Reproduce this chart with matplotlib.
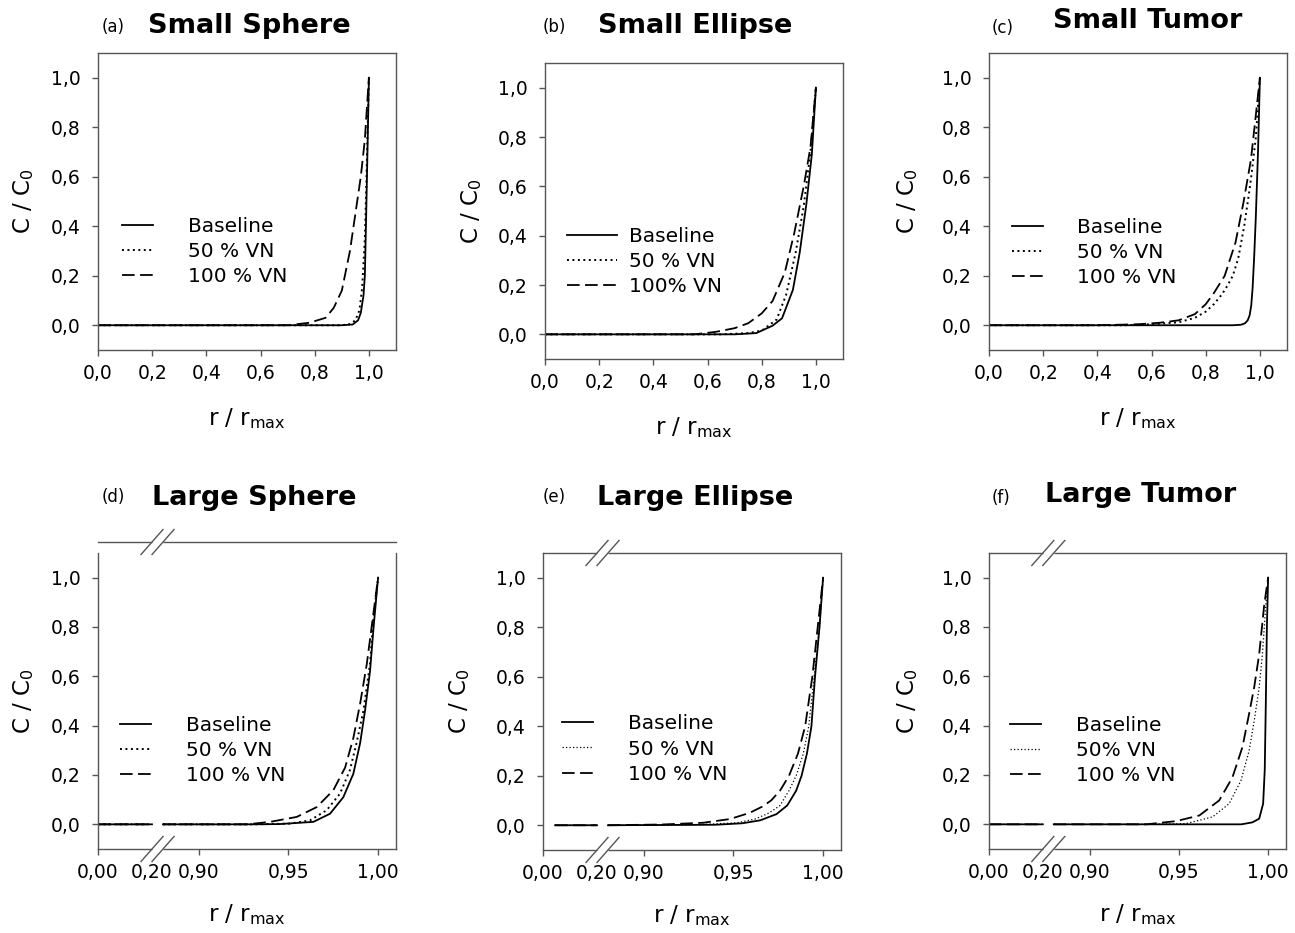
import numpy as np
import matplotlib
matplotlib.use("Agg")
import matplotlib.pyplot as plt
from matplotlib.ticker import FuncFormatter, FixedLocator
from matplotlib.lines import Line2D

# ---------------- data ----------------
# (a) Small Sphere
a_base_x = [0, 0.9, 0.94, 0.96, 0.97, 0.98, 0.985, 0.99, 0.995, 1.0]
a_base_y = [0, 0, 0.003, 0.02, 0.05, 0.12, 0.2, 0.45, 0.72, 1.0]
a_50_x = [0, 0.9, 0.93, 0.95, 0.965, 0.975, 0.985, 0.99, 0.995, 1.0]
a_50_y = [0, 0, 0.005, 0.02, 0.06, 0.15, 0.35, 0.55, 0.78, 1.0]
a_100_x = [0, 0.7, 0.78, 0.84, 0.87, 0.9, 0.93, 0.95, 0.97, 0.985, 0.995, 1.0]
a_100_y = [0, 0, 0.01, 0.03, 0.07, 0.14, 0.3, 0.45, 0.6, 0.75, 0.92, 1.0]

# (b) Small Ellipse
b_base_x = [0, 0.7, 0.78, 0.84, 0.875, 0.915, 0.94, 0.965, 0.985, 1.0]
b_base_y = [0, 0, 0.005, 0.035, 0.065, 0.18, 0.33, 0.53, 0.73, 1.0]
b_50_x = [0, 0.65, 0.75, 0.8, 0.855, 0.89, 0.925, 0.955, 0.98, 1.0]
b_50_y = [0, 0, 0.005, 0.015, 0.06, 0.16, 0.33, 0.52, 0.74, 1.0]
b_100_x = [0, 0.55, 0.63, 0.7, 0.75, 0.8, 0.84, 0.885, 0.92, 0.955, 0.98, 1.0]
b_100_y = [0, 0, 0.01, 0.025, 0.045, 0.085, 0.135, 0.25, 0.41, 0.6, 0.76, 1.0]

# (c) Small Tumor
c_base_x = [0, 0.9, 0.93, 0.945, 0.955, 0.962, 0.968, 0.973, 0.979, 0.985, 0.993, 1.0]
c_base_y = [0, 0, 0.002, 0.008, 0.02, 0.04, 0.08, 0.15, 0.28, 0.44, 0.7, 1.0]
c_50_x = [0, 0.5, 0.6, 0.7, 0.76, 0.8, 0.83, 0.86, 0.88, 0.9, 0.92, 0.942, 0.958, 0.968, 0.985, 1.0]
c_50_y = [0, 0, 0.004, 0.012, 0.03, 0.055, 0.085, 0.125, 0.16, 0.2, 0.27, 0.4, 0.52, 0.6, 0.76, 1.0]
c_100_x = [0, 0.4, 0.55, 0.63, 0.7, 0.76, 0.8, 0.83, 0.87, 0.91, 0.94, 0.967, 0.985, 1.0]
c_100_y = [0, 0, 0.004, 0.01, 0.02, 0.045, 0.085, 0.13, 0.2, 0.335, 0.5, 0.67, 0.85, 1.0]

# (d) Large Sphere (broken axis 0-0.20 | 0.88-1.01)
d_base_x = [0, 0.2, 0.88, 0.93, 0.945, 0.9639, 0.9732, 0.9806, 0.9862, 0.99, 0.9927, 0.9955, 0.9975, 1.0]
d_base_y = [0, 0, 0, 0, 0.001, 0.01, 0.043, 0.11, 0.205, 0.33, 0.46, 0.62, 0.8, 1.0]
d_50_x = [0, 0.2, 0.88, 0.93, 0.9509, 0.962, 0.9713, 0.9788, 0.9843, 0.988, 0.9918, 0.9955, 0.9973, 1.0]
d_50_y = [0, 0, 0, 0, 0.003, 0.016, 0.057, 0.125, 0.22, 0.33, 0.46, 0.65, 0.826, 1.0]
d_100_x = [0, 0.2, 0.88, 0.927, 0.9397, 0.9546, 0.9658, 0.975, 0.9816, 0.9862, 0.99, 0.9937, 0.9973, 1.0]
d_100_y = [0, 0, 0, 0, 0.01, 0.03, 0.07, 0.138, 0.23, 0.35, 0.49, 0.65, 0.85, 1.0]

# (e) Large Ellipse
e_base_x = [0.045, 0.2, 0.88, 0.94, 0.955, 0.965, 0.974, 0.98, 0.985, 0.988, 0.991, 0.9935, 0.9955, 0.998, 1.0]
e_base_y = [0, 0, 0, 0.002, 0.008, 0.02, 0.045, 0.08, 0.14, 0.2, 0.29, 0.4, 0.6, 0.8, 1.0]
e_50_x = [0.045, 0.2, 0.88, 0.93, 0.952, 0.962, 0.970, 0.976, 0.981, 0.985, 0.989, 0.992, 0.995, 0.998, 1.0]
e_50_y = [0, 0, 0, 0.002, 0.01, 0.025, 0.05, 0.08, 0.14, 0.2, 0.29, 0.4, 0.6, 0.8, 1.0]
e_100_x = [0.045, 0.2, 0.88, 0.91, 0.933, 0.948, 0.959, 0.966, 0.971, 0.976, 0.981, 0.986, 0.99, 0.994, 0.997, 1.0]
e_100_y = [0, 0, 0, 0.003, 0.01, 0.025, 0.05, 0.075, 0.1, 0.14, 0.2, 0.29, 0.4, 0.6, 0.8, 1.0]

# (f) Large Tumor
f_base_x = [0, 0.2, 0.88, 0.985, 0.9912, 0.995, 0.9972, 0.9981, 0.9987, 0.9993, 1.0]
f_base_y = [0, 0, 0, 0, 0.008, 0.023, 0.084, 0.22, 0.49, 0.8, 1.0]
f_50_x = [0, 0.2, 0.88, 0.935, 0.954, 0.9689, 0.9782, 0.9848, 0.9894, 0.9922, 0.995, 0.9968, 0.9987, 1.0]
f_50_y = [0, 0, 0, 0, 0.003, 0.03, 0.084, 0.178, 0.3, 0.42, 0.556, 0.69, 0.89, 1.0]
f_100_x = [0, 0.2, 0.88, 0.9317, 0.9485, 0.9615, 0.9726, 0.98, 0.9856, 0.9894, 0.9922, 0.995, 0.9978, 1.0]
f_100_y = [0, 0, 0, 0, 0.013, 0.036, 0.097, 0.19, 0.313, 0.45, 0.556, 0.69, 0.89, 1.0]

titles = ["Small Sphere", "Small Ellipse", "Small Tumor",
          "Large Sphere", "Large Ellipse", "Large Tumor"]
panel_tags = ["(a)", "(b)", "(c)", "(d)", "(e)", "(f)"]
legend_labels = [
    ["Baseline", "50 % VN", "100 % VN"],
    ["Baseline", "50 % VN", "100% VN"],
    ["Baseline", "50 % VN", "100 % VN"],
    ["Baseline", "50 % VN", "100 % VN"],
    ["Baseline", "50 % VN", "100 % VN"],
    ["Baseline", "50% VN", "100 % VN"],
]
top_xticks = [0.0, 0.2, 0.4, 0.6, 0.8, 1.0]
bot_xticks = [0.0, 0.2, 0.90, 0.95, 1.00]
yticks = [0.0, 0.2, 0.4, 0.6, 0.8, 1.0]

series = [
    [(a_base_x, a_base_y), (a_50_x, a_50_y), (a_100_x, a_100_y)],
    [(b_base_x, b_base_y), (b_50_x, b_50_y), (b_100_x, b_100_y)],
    [(c_base_x, c_base_y), (c_50_x, c_50_y), (c_100_x, c_100_y)],
    [(d_base_x, d_base_y), (d_50_x, d_50_y), (d_100_x, d_100_y)],
    [(e_base_x, e_base_y), (e_50_x, e_50_y), (e_100_x, e_100_y)],
    [(f_base_x, f_base_y), (f_50_x, f_50_y), (f_100_x, f_100_y)],
]

# ---------------- layout / style ----------------
W, H = 1295, 933
fig = plt.figure(figsize=(W / 100, H / 100), dpi=100)
plt.rcParams["font.family"] = ["DejaVu Sans"]
plt.rcParams["mathtext.fontset"] = "dejavusans"

SPINE = "#555555"

# axes boxes in pixels: left, top, right, bottom
boxes = [(98, 53, 396, 350), (545, 63, 843, 359), (989, 53, 1287, 350),
         (98, 553, 396, 849), (543, 553, 841, 850), (989, 553, 1286, 849)]
# legend: handle left (axes frac), middle row (axes frac)
leg_pos = [(0.081, 0.333), (0.074, 0.328), (0.077, 0.327),
           (0.074, 0.334), (0.064, 0.34), (0.071, 0.334)]
ylab_x = [-0.25, -0.245, -0.275, -0.25, -0.28, -0.275]
tag_pos = [(102, 32), (543, 32), (992, 33), (102, 502), (543, 502), (992, 503)]
title_pos = [(148, 33), (598, 33), (1053, 28), (152, 505), (597, 505), (1045, 502)]


def fwd(x):
    x = np.asarray(x, dtype=float)
    return np.where(x <= 0.2, x * 270.0,
                    np.where(x <= 0.88, 54.0 + (x - 0.2) * (11.0 / 0.68),
                             65.0 + (x - 0.88) * 1792.0))


def inv(u):
    u = np.asarray(u, dtype=float)
    return np.where(u <= 54.0, u / 270.0,
                    np.where(u <= 65.0, 0.2 + (u - 54.0) * 0.68 / 11.0,
                             0.88 + (u - 65.0) / 1792.0))


def split_gap(x, y):
    x = np.asarray(x, float)
    y = np.asarray(y, float)
    idx = int(np.searchsorted(x, 0.5))
    return np.insert(x, idx, np.nan), np.insert(y, idx, np.nan)


def comma(fmt):
    return FuncFormatter(lambda v, p: (fmt % v).replace(".", ","))


for i in range(6):
    L, T, R, B = boxes[i]
    ax = fig.add_axes([L / W, 1 - B / H, (R - L) / W, (B - T) / H])
    broken = i >= 3
    thin_dot = i >= 4
    styles = [dict(color="black", lw=1.3, ls="-"),
              dict(color="black", lw=0.9 if thin_dot else 1.4, ls=(0, (1, 1.8))),
              dict(color="black", lw=1.3, ls=(0, (7, 3)))]
    handles = []
    for (xs, ys), st in zip(series[i], styles):
        if broken:
            xs, ys = split_gap(xs, ys)
        ax.plot(xs, ys, **st)
        handles.append(Line2D([], [], **st))
    ax.set_ylim(-0.1, 1.1)
    ax.yaxis.set_major_locator(FixedLocator(yticks))
    ax.yaxis.set_major_formatter(comma("%.1f"))
    if broken:
        ax.set_xscale("function", functions=(fwd, inv))
        ax.set_xlim(0, 1.01)
        ax.xaxis.set_major_locator(FixedLocator(bot_xticks))
        ax.xaxis.set_major_formatter(comma("%.2f"))
        ax.xaxis.set_minor_locator(FixedLocator([]))
    else:
        ax.set_xlim(0, 1.1)
        ax.xaxis.set_major_locator(FixedLocator(top_xticks))
        ax.xaxis.set_major_formatter(comma("%.1f"))
    for s in ax.spines.values():
        s.set_color(SPINE)
        s.set_linewidth(1.0)
    ax.tick_params(direction="out", length=4.5, width=1.0, color=SPINE,
                   labelsize=13.5, labelcolor="black")
    ax.tick_params(axis="y", pad=8)
    ax.tick_params(axis="x", pad=5.5)

    ax.set_ylabel("C / C$_0$", fontsize=16.5)
    ax.yaxis.set_label_coords(ylab_x[i], 0.5)
    ax.yaxis.label.set_va("center")
    ax.set_xlabel("r / r$_{\\mathrm{max}}$", fontsize=16.5)
    ax.xaxis.set_label_coords(0.5, -(69.0 if not broken else 66.0) / (B - T))
    ax.xaxis.label.set_va("center")

    hx, my = leg_pos[i]
    if i == 1:
        hl, tp = 2.5, 0.6
    else:
        hl, tp = 1.55, 1.7
    ax.legend(handles, legend_labels[i], loc="center left", bbox_to_anchor=(hx, my),
              frameon=False, fontsize=14.5, handlelength=hl, handletextpad=tp,
              labelspacing=0.3, borderpad=0, borderaxespad=0)

    tx, ty = tag_pos[i]
    fig.text(tx / W, 1 - ty / H, panel_tags[i], fontsize=12, ha="left", va="baseline")
    tx, ty = title_pos[i]
    fig.text(tx / W, 1 - ty / H, titles[i], fontsize=19.5, fontweight="bold",
             ha="left", va="baseline")

    if broken:
        # hide the tick at 0.20 (sits under the break marks)
        ax.xaxis.get_major_ticks()[1].tick1line.set_visible(False)
        fig.canvas.draw()
        xa = ax.transAxes.inverted().transform(ax.transData.transform([(0.2, 0), (0.88, 0)]))[:, 0]
        w_ax, h_ax = R - L, B - T
        dx, dy = 11.0 / w_ax, 12.5 / h_ax
        if i == 3:
            ax.spines["top"].set_visible(False)
            ytop = 1 + 11.0 / h_ax
            ax.plot([0, 1], [ytop, ytop], transform=ax.transAxes, color=SPINE,
                    lw=1.0, clip_on=False, zorder=5)
        else:
            ytop = 1.0
        for yb in (0.0, ytop):
            ax.plot([xa[0], xa[1]], [yb, yb], transform=ax.transAxes, color="white",
                    lw=2.5, clip_on=False, zorder=6, solid_capstyle="butt")
            for xc in xa:
                ax.plot([xc - dx, xc + dx], [yb - dy, yb + dy], transform=ax.transAxes,
                        color=SPINE, lw=1.0, clip_on=False, zorder=7)

fig.savefig("out.png", dpi=100)
